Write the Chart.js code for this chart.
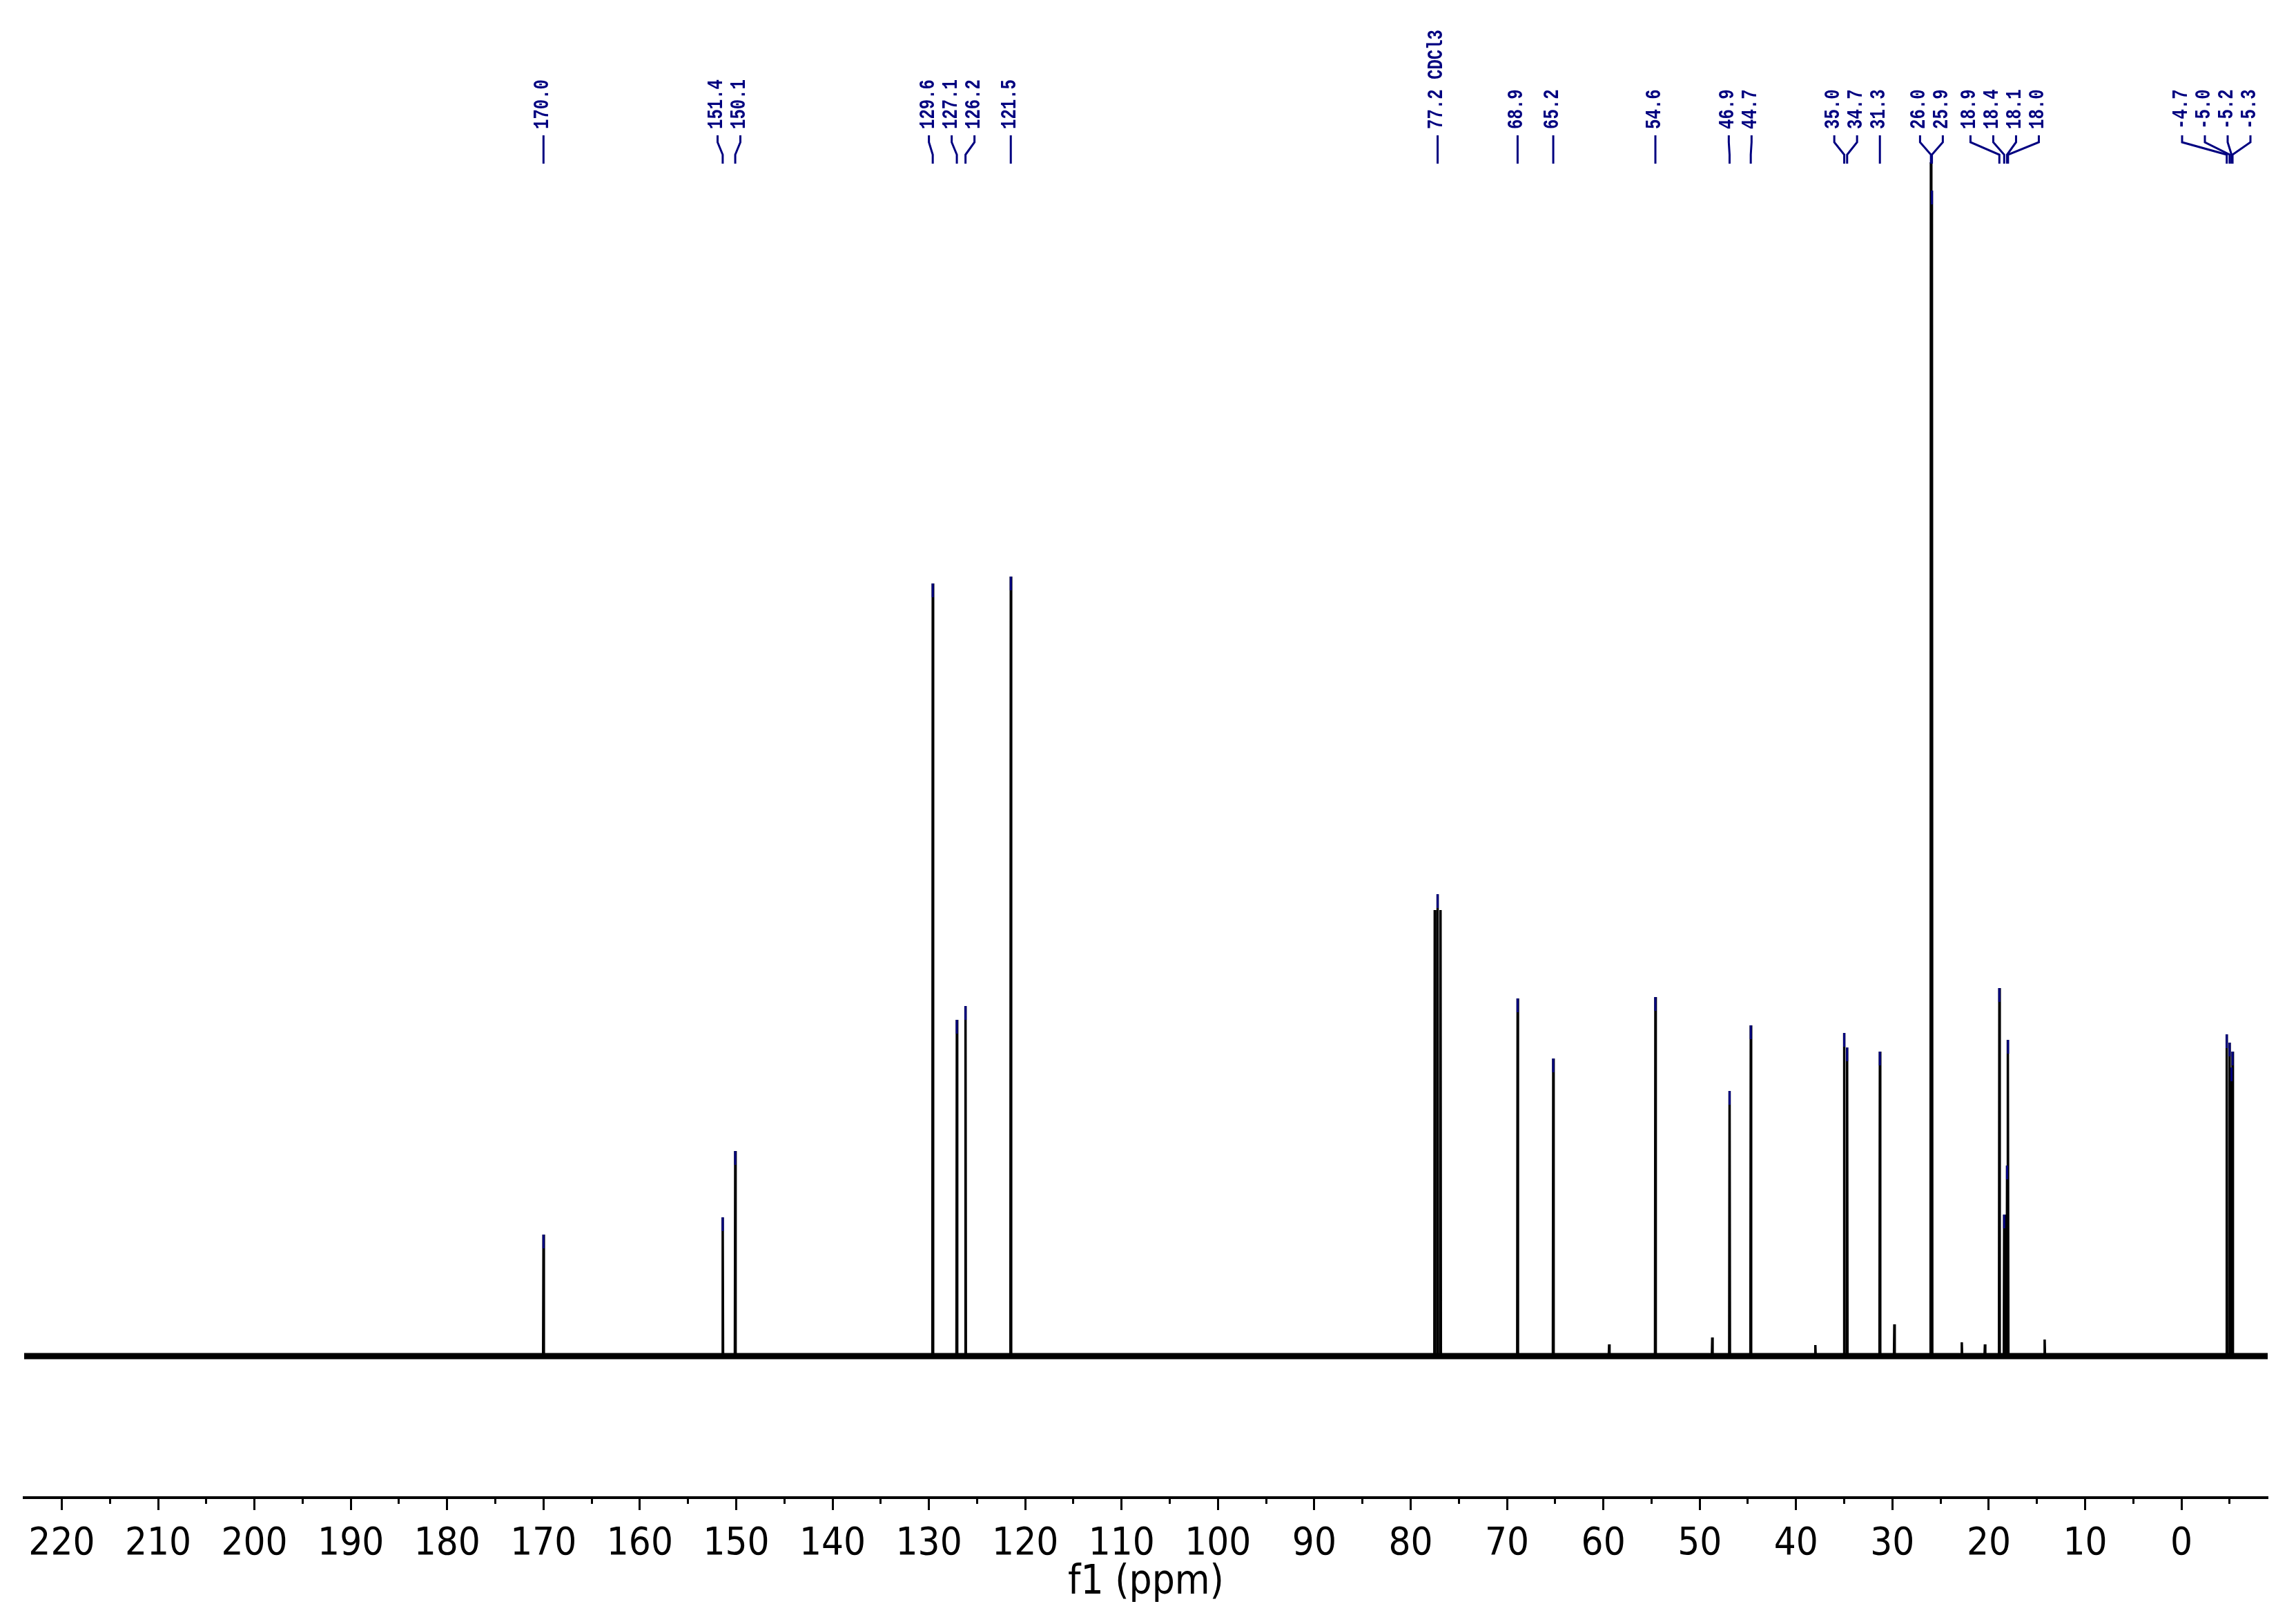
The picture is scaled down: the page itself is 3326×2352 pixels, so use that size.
<!DOCTYPE html>
<html>
<head>
<meta charset="utf-8">
<script src="https://cdn.jsdelivr.net/npm/chart.js@4.4.1/dist/chart.umd.min.js"></script>
<style>
  html, body { margin: 0; padding: 0; background: #fff; }
</style>
</head>
<body>
<canvas id="c" width="3326" height="2352"></canvas>
<script>
// 13C spectrum, peak positions (ppm) and heights
const PEAK_PPM = [170.0, 151.4, 150.1, 129.6, 127.1, 126.2, 121.5, 77.5, 77.2, 76.9,
  68.9, 65.2, 59.4, 54.6, 48.7, 46.9, 44.7, 38.0, 35.0, 34.7, 31.3, 29.8, 26.0, 25.9,
  22.8, 20.4, 18.9, 18.4, 18.1, 18.0, 14.2, -4.7, -5.0, -5.2, -5.3];
const PEAK_INT = [176, 201, 297, 1119, 487, 507, 1129, 646, 669, 646,
  518, 431, 17, 520, 27, 384, 479, 16, 468, 447, 441, 46, 2100, 1688,
  20, 17, 533, 205, 276, 458, 24, 466, 454, 418, 441];

// picked peaks shown at the top
const LABEL_PPM = [170.0, 151.4, 150.1, 129.6, 127.1, 126.2, 121.5, 77.2, 68.9, 65.2,
  54.6, 46.9, 44.7, 35.0, 34.7, 31.3, 26.0, 25.9, 18.9, 18.4, 18.1, 18.0, -4.7, -5.0, -5.2, -5.3];
const LABEL_TEXT = ['170.0', '151.4', '150.1', '129.6', '127.1', '126.2', '121.5', '77.2 CDCl3', '68.9', '65.2',
  '54.6', '46.9', '44.7', '35.0', '34.7', '31.3', '26.0', '25.9', '18.9', '18.4', '18.1', '18.0', '-4.7', '-5.0', '-5.2', '-5.3'];

const TICK_PPM = [220, 210, 200, 190, 180, 170, 160, 150, 140, 130, 120, 110, 100, 90, 80, 70, 60, 50, 40, 30, 20, 10, 0];

const X_MIN = -8.95, X_MAX = 223.9;
const Y_MIN = -205, Y_MAX = 1729;

const NAVY = '#000080';
const AXIS_FONT = "'Liberation Sans Narrow', 'DejaVu Sans Condensed', 'DejaVu Sans', sans-serif";
const LABEL_FONT = "bold 24px 'Liberation Mono', 'DejaVu Sans Mono', monospace";

// build line trace: flat baseline with a narrow spike for every peak
const W = 0.04;
const order = PEAK_PPM.map((p, i) => i).sort((a, b) => PEAK_PPM[b] - PEAK_PPM[a]);
const spectrum = [{ x: X_MAX, y: 0 }];
order.forEach(i => {
  spectrum.push({ x: PEAK_PPM[i] + W, y: 0 });
  spectrum.push({ x: PEAK_PPM[i], y: PEAK_INT[i] });
  spectrum.push({ x: PEAK_PPM[i] - W, y: 0 });
});
spectrum.push({ x: X_MIN, y: 0 });

// spread the labels so they don't overlap
function labelPositions(want, S, minX, maxX) {
  const groups = [];
  const leftOf = g => {
    let l = g.sum / g.n - (g.n - 1) * S / 2;
    l = Math.min(l, maxX - (g.n - 1) * S);
    return Math.max(l, minX);
  };
  want.forEach((w, i) => {
    groups.push({ start: i, n: 1, sum: w });
    while (groups.length > 1) {
      const g = groups[groups.length - 1], prev = groups[groups.length - 2];
      if (leftOf(prev) + prev.n * S > leftOf(g)) {
        prev.n += g.n; prev.sum += g.sum;
        groups.pop();
      } else break;
    }
  });
  const out = [];
  groups.forEach(g => {
    const l = leftOf(g);
    for (let k = 0; k < g.n; k++) out.push(l + k * S);
  });
  return out;
}

const peakLabels = {
  id: 'peakLabels',
  afterDatasetsDraw(chart) {
    const { ctx, chartArea, scales: { x, y } } = chart;
    const top = chartArea.top;

    // peak markers
    ctx.save();
    ctx.strokeStyle = NAVY;
    ctx.lineWidth = 3;
    LABEL_PPM.forEach(p => {
      const i = PEAK_PPM.indexOf(p);
      const px = x.getPixelForValue(p);
      const py = y.getPixelForValue(PEAK_INT[i]);
      if (py < top) return;
      ctx.beginPath();
      ctx.moveTo(px, py);
      ctx.lineTo(px, py + 20);
      ctx.stroke();
    });

    // connectors + text
    const want = LABEL_PPM.map(p => x.getPixelForValue(p));
    const pos = labelPositions(want, 33, chartArea.left + 20, chartArea.right - 25);
    ctx.lineWidth = 3;
    pos.forEach((lx, i) => {
      ctx.beginPath();
      ctx.moveTo(lx, top - 39);
      ctx.lineTo(lx, top - 29);
      ctx.lineTo(want[i], top - 11);
      ctx.lineTo(want[i], top + 2);
      ctx.stroke();
    });
    ctx.fillStyle = NAVY;
    ctx.font = LABEL_FONT;
    ctx.textAlign = 'left';
    ctx.textBaseline = 'middle';
    pos.forEach((lx, i) => {
      ctx.save();
      ctx.translate(lx - 1, top - 48);
      ctx.rotate(-Math.PI / 2);
      ctx.scale(1, 1.3);
      ctx.fillText(LABEL_TEXT[i], 0, 0);
      ctx.restore();
    });
    ctx.restore();
  }
};

new Chart(document.getElementById('c'), {
  type: 'line',
  data: {
    datasets: [
      {
        label: 'baseline',
        data: [{ x: X_MAX, y: 0 }, { x: X_MIN, y: 0 }],
        borderColor: '#000',
        borderWidth: 9,
        pointRadius: 0
      },
      {
        label: 'spectrum',
        data: spectrum,
        borderColor: '#000',
        borderWidth: 3.5,
        pointRadius: 0,
        tension: 0
      }
    ]
  },
  options: {
    responsive: false,
    animation: false,
    devicePixelRatio: 1,
    layout: { padding: { left: 35, right: 41, top: 235, bottom: 0 } },
    plugins: { legend: { display: false }, tooltip: { enabled: false } },
    scales: {
      x: {
        type: 'linear',
        position: 'bottom',
        reverse: true,
        min: X_MIN,
        max: X_MAX,
        afterBuildTicks: s => { s.ticks = TICK_PPM.map(v => ({ value: v })); },
        afterFit: s => { s.height = 2352 - 2169; },
        ticks: {
          autoSkip: false,
          maxRotation: 0,
          includeBounds: false,
          padding: 16,
          color: '#000',
          font: { family: AXIS_FONT, size: 56 },
          callback: v => String(v)
        },
        grid: { drawOnChartArea: false, drawTicks: true, tickLength: 18, tickWidth: 3, tickColor: '#000' },
        border: { display: true, color: '#000', width: 4 },
        title: {
          display: true,
          text: 'f1 (ppm)',
          color: '#000',
          font: { family: AXIS_FONT, size: 58 },
          padding: { top: 0, bottom: 24 }
        }
      },
      x2: {
        type: 'linear',
        axis: 'x',
        position: { y: Y_MIN },
        reverse: true,
        min: X_MIN,
        max: X_MAX,
        ticks: { display: false, stepSize: 5, includeBounds: false },
        grid: { drawOnChartArea: false, drawTicks: true, tickLength: 9, tickWidth: 3, tickColor: '#000' },
        border: { display: false }
      },
      y: {
        type: 'linear',
        display: false,
        min: Y_MIN,
        max: Y_MAX
      }
    }
  },
  plugins: [peakLabels]
});
</script>
</body>
</html>
